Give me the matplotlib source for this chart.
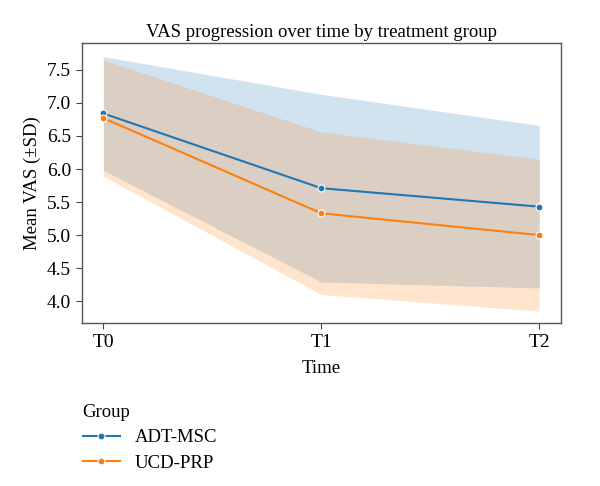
import numpy as np
import matplotlib
matplotlib.use('Agg')
import matplotlib.pyplot as plt

plt.rcParams['font.family'] = ['Liberation Serif', 'DejaVu Serif']

times = ['T0', 'T1', 'T2']
groups = ['ADT-MSC', 'UCD-PRP']
means = {'ADT-MSC': [6.84, 5.71, 5.43], 'UCD-PRP': [6.77, 5.33, 5.00]}
sds = {'ADT-MSC': [0.86, 1.42, 1.23], 'UCD-PRP': [0.88, 1.23, 1.15]}
colors = {'ADT-MSC': '#1f77b4', 'UCD-PRP': '#ff7f0e'}

fig = plt.figure(figsize=(6, 4.86), dpi=100)
ax = fig.add_axes([0.136, 0.335, 0.799, 0.577])

x = np.arange(len(times))
for g in groups:
    m = np.array(means[g])
    s = np.array(sds[g])
    ax.fill_between(x, m - s, m + s, color=colors[g], alpha=0.2, linewidth=0)
    ax.plot(x, m, color=colors[g], marker='o', markersize=5,
            markeredgecolor='white', markeredgewidth=0.8, linewidth=1.5, label=g)

ax.set_xticks(x)
ax.set_xticklabels(times)
ax.set_xlim(-0.1, 2.1)
ax.set_ylim(3.667, 7.91)
ax.set_yticks([4.0, 4.5, 5.0, 5.5, 6.0, 6.5, 7.0, 7.5])
ax.set_yticklabels(['4.0', '4.5', '5.0', '5.5', '6.0', '6.5', '7.0', '7.5'])
ax.tick_params(labelsize=14, color='#444444', length=4)
for sp in ax.spines.values():
    sp.set_color('#555555')
    sp.set_linewidth(1.0)

ax.set_title('VAS progression over time by treatment group', fontsize=13.5, pad=4)
ax.set_xlabel('Time', fontsize=13.5, labelpad=7)
ax.set_ylabel('Mean VAS (±SD)', fontsize=13.5, labelpad=4)

fig.legend(loc='upper left', bbox_to_anchor=(0.125, 0.185), frameon=False,
           title='Group', alignment='left', fontsize=13.5, title_fontsize=13.5,
           handlelength=2.0, labelspacing=0.45, borderaxespad=0)

fig.savefig('out.png', dpi=100)
